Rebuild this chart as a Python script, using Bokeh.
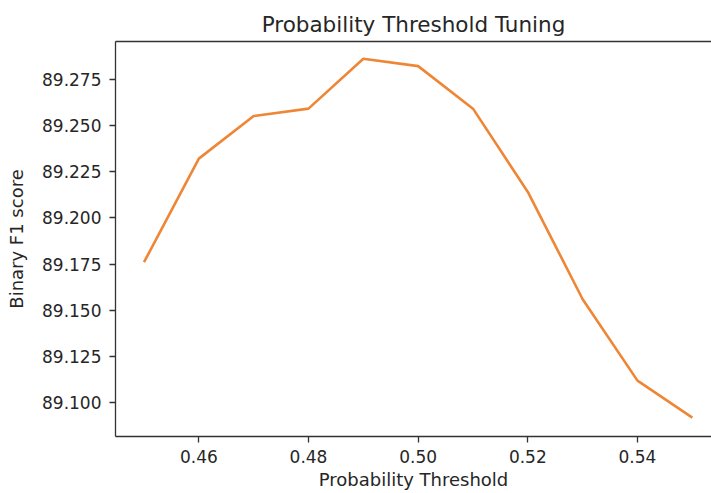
from bokeh.plotting import figure
from bokeh.models import FixedTicker, PrintfTickFormatter, Range1d, LinearAxis
from bokeh.embed import file_html
from bokeh.resources import INLINE

thresholds = [0.45, 0.46, 0.47, 0.48, 0.49, 0.50, 0.51, 0.52, 0.53, 0.54, 0.55]
f1_scores = [89.176, 89.232, 89.255, 89.259, 89.286, 89.282, 89.259, 89.214, 89.156, 89.112, 89.092]
x_ticks = [0.46, 0.48, 0.50, 0.52, 0.54]
y_ticks = [89.100, 89.125, 89.150, 89.175, 89.200, 89.225, 89.250, 89.275]

FONT = "DejaVu Sans"
TXT = "#262626"
SPINE = "#333333"

p = figure(width=711, height=493, output_backend="svg", toolbar_location=None,
           x_range=Range1d(0.4448, 0.5535), y_range=Range1d(89.0818, 89.2953),
           min_border_left=115, min_border_right=0, min_border_top=41, min_border_bottom=57)

p.title.text = "Probability Threshold Tuning"
p.title.text_font = FONT
p.title.text_font_size = "21.5px"
p.title.text_font_style = "normal"
p.title.text_color = TXT
p.title.align = "center"

p.line(thresholds, f1_scores, line_color="#ee8636", line_width=2.6)

p.grid.grid_line_color = None
p.background_fill_color = "white"
p.border_fill_color = "white"
p.outline_line_color = None

xax = p.below[0]
yax = p.left[0]
xax.ticker = FixedTicker(ticks=x_ticks)
yax.ticker = FixedTicker(ticks=y_ticks)
xax.formatter = PrintfTickFormatter(format="%.2f")
yax.formatter = PrintfTickFormatter(format="%.3f")
xax.axis_label = "Probability Threshold"
yax.axis_label = "Binary F1 score"

for ax in (xax, yax):
    ax.axis_line_color = SPINE
    ax.axis_line_width = 1.3
    ax.major_tick_line_color = SPINE
    ax.major_tick_line_width = 1.3
    ax.major_tick_out = 6
    ax.major_tick_in = 0
    ax.minor_tick_line_color = None
    ax.major_label_text_font = FONT
    ax.major_label_text_font_size = "17px"
    ax.major_label_text_color = TXT
    ax.axis_label_text_font = FONT
    ax.axis_label_text_font_size = "18px"
    ax.axis_label_text_font_style = "normal"
    ax.axis_label_text_color = TXT

xax.major_label_standoff = 7
xax.axis_label_standoff = 3
yax.major_label_standoff = 8
yax.axis_label_standoff = 12
yax.major_label_orientation = "horizontal"

top = LinearAxis(ticker=FixedTicker(ticks=[]), major_label_text_font_size="0px",
                 axis_line_color=SPINE, axis_line_width=1.3,
                 major_tick_line_color=None, minor_tick_line_color=None,
                 major_tick_out=0, major_tick_in=0, major_label_standoff=0)
p.add_layout(top, "above")

open("out.html", "w").write(file_html(p, INLINE))
